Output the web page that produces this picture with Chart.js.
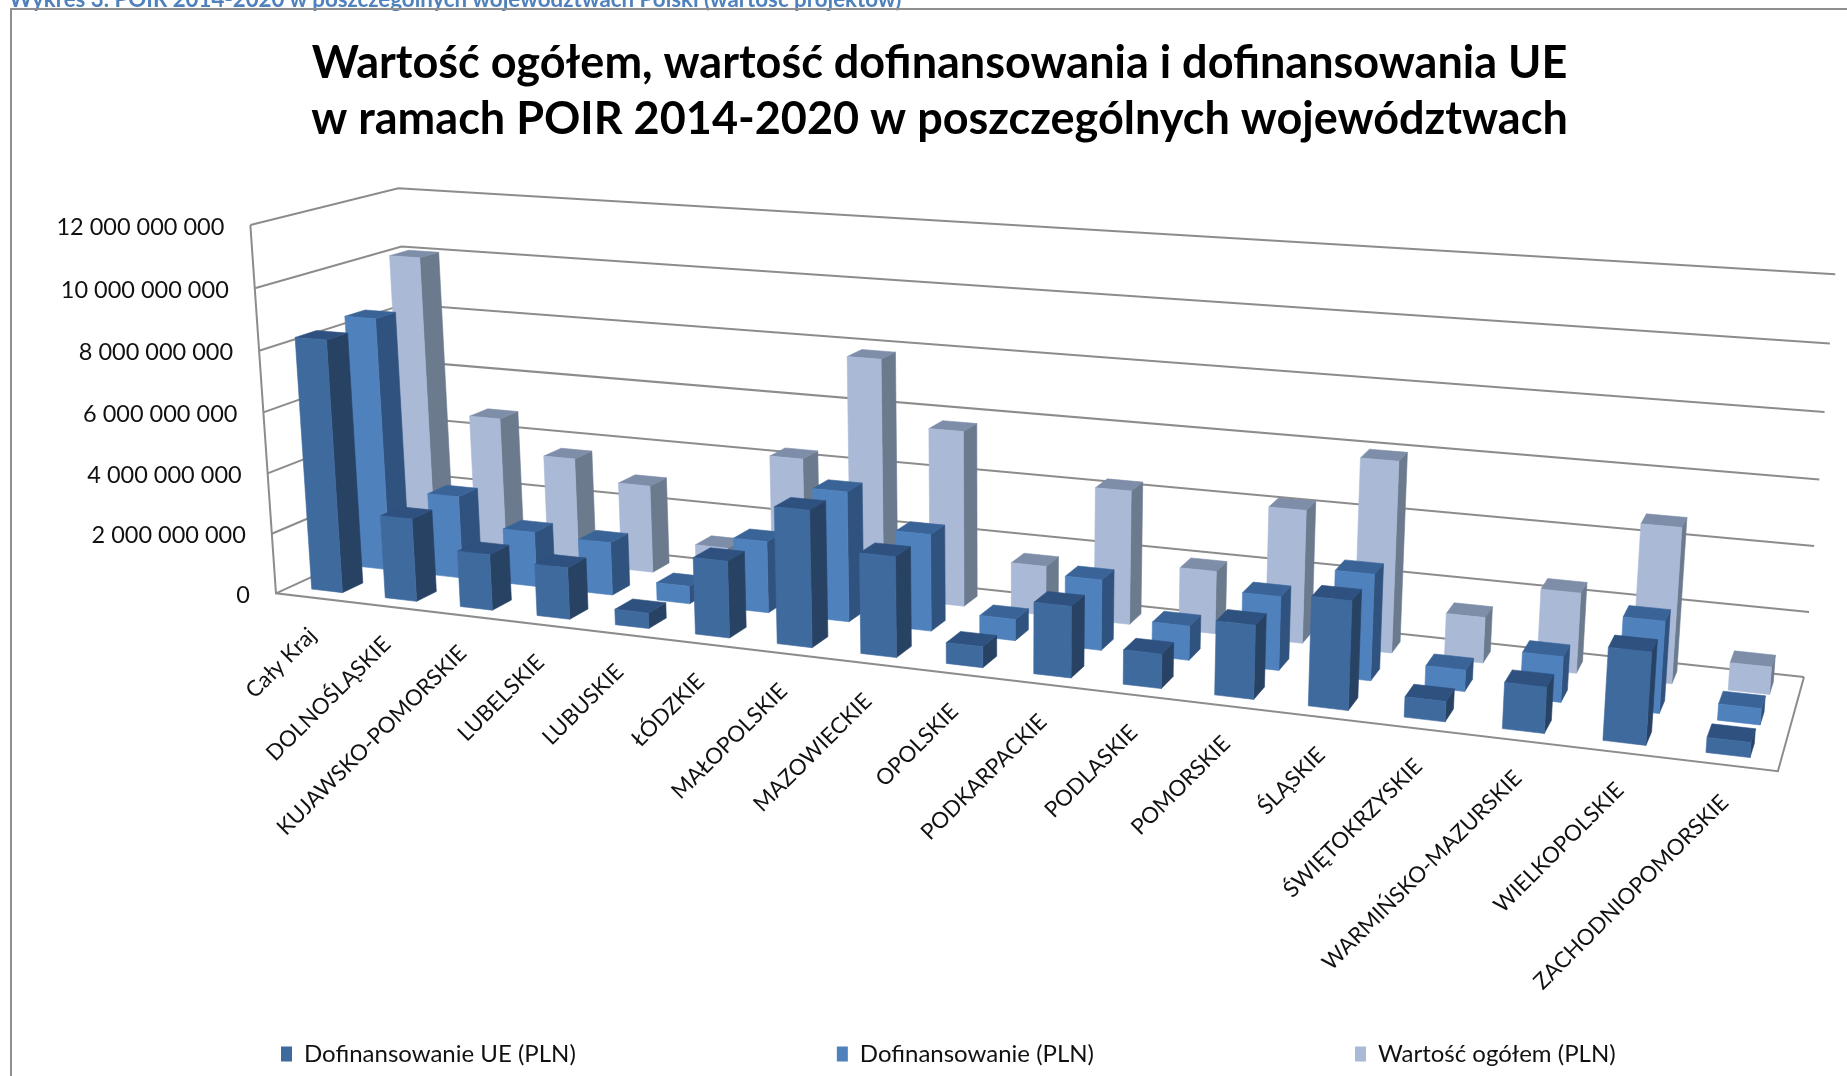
<!DOCTYPE html>
<html lang="pl">
<head>
<meta charset="utf-8">
<title>POIR 2014-2020</title>
<script src="https://cdn.jsdelivr.net/npm/chart.js@4/dist/chart.umd.js"></script>
<style>
html,body{margin:0;padding:0;background:#fff;width:1847px;height:1076px;overflow:hidden}
#cap{position:absolute;left:9px;top:-15px;font:bold 22.3px Lato,sans-serif;color:#4F81BD;white-space:nowrap;filter:blur(.5px)}
#frame{position:absolute;left:10px;top:8px;right:-5px;bottom:-5px;border:2px solid #8f8f8f}
canvas{position:absolute;left:0;top:0;filter:blur(.5px)}
</style>
</head>
<body>
<div id="cap">Wykres 3. POIR 2014-2020 w poszczególnych województwach Polski (wartość projektów)</div>
<div id="frame"></div>
<canvas id="c" width="1847" height="1076"></canvas>
<script>
const categories = ['Cały Kraj','DOLNOŚLĄSKIE','KUJAWSKO-POMORSKIE','LUBELSKIE','LUBUSKIE','ŁÓDZKIE','MAŁOPOLSKIE','MAZOWIECKIE','OPOLSKIE','PODKARPACKIE','PODLASKIE','POMORSKIE','ŚLĄSKIE','ŚWIĘTOKRZYSKIE','WARMIŃSKO-MAZURSKIE','WIELKOPOLSKIE','ZACHODNIOPOMORSKIE'];
const dofinansowanieUE = [8330000000,2730000000,1830000000,1680000000,500000000,2450000000,4320000000,3150000000,650000000,2200000000,1050000000,2230000000,3250000000,600000000,1350000000,2680000000,430000000];
const dofinansowanie  = [8500000000,2770000000,1830000000,1750000000,580000000,2330000000,4200000000,3100000000,680000000,2220000000,1070000000,2280000000,3250000000,650000000,1370000000,2730000000,480000000];
const wartoscOgolem   = [10050000000,4770000000,3630000000,2950000000,1100000000,4350000000,7830000000,5720000000,1600000000,4300000000,2000000000,4200000000,5970000000,1420000000,2470000000,4730000000,830000000];
const valueTicks = [0,2000000000,4000000000,6000000000,8000000000,10000000000,12000000000];
const seriesNames = ['Dofinansowanie UE (PLN)','Dofinansowanie (PLN)','Wartość ogółem (PLN)'];
const frontColors = ['#3F6A9E','#4F81BD','#AAB9D6'];
const sideColors  = ['#284264','#30527E','#6C7A8E'];
const topColors   = ['#2E5180','#3A6498','#7E8DA8'];
const valueMax = 12000000000;

/* Projection of the 3D box (u along categories, v along values, w into depth) on the screen */
const anchors = [
 [0,0,0,277,592],[1,0,0,1778,772],[1,0,1,1804,676],[0,0,1,416,530],
 [0,1,0,249,226],[0,1,1,399,188],[1,1,1,1835,274.5],
 [0,5/6,0,255,288],[0,5/6,1,402,246],[1,5/6,1,1830,343.5]
];
function solveProjection(){
  const rows=[];
  for(const [u,v,w,x,y] of anchors){
    const X=x/1000,Y=y/1000;
    rows.push([u,v,w,1,0,0,0,0,-X*u,-X*v,-X*w,X]);
    rows.push([0,0,0,0,u,v,w,1,-Y*u,-Y*v,-Y*w,Y]);
  }
  const n=11,A=[];
  for(let i=0;i<n;i++){A.push(new Array(n+1).fill(0));
    for(let j=0;j<=n;j++)for(const r of rows)A[i][j]+=r[i]*r[j];}
  for(let i=0;i<n;i++){
    let p=i;for(let k=i+1;k<n;k++)if(Math.abs(A[k][i])>Math.abs(A[p][i]))p=k;
    [A[i],A[p]]=[A[p],A[i]];
    for(let k=0;k<n;k++){if(k===i)continue;const f=A[k][i]/A[i][i];for(let j=i;j<=n;j++)A[k][j]-=f*A[i][j];}
  }
  return A.map((r,i)=>r[n]/r[i]);
}
const P=solveProjection();
function project(u,v,w){
  const d=P[8]*u+P[9]*v+P[10]*w+1;
  return {x:1000*(P[0]*u+P[1]*v+P[2]*w+P[3])/d, y:1000*(P[4]*u+P[5]*v+P[6]*w+P[7])/d};
}
function path(ctx,pts,fill){
  ctx.beginPath();pts.forEach((p,i)=>i?ctx.lineTo(p.x,p.y):ctx.moveTo(p.x,p.y));ctx.closePath();
  ctx.fillStyle=fill;ctx.strokeStyle=fill;ctx.lineWidth=.6;ctx.fill();ctx.stroke();
}
const depthSlots=3, depthFill=.42;

class Bar3DElement extends Chart.BarElement{
  static id='bar3d';
  draw(ctx){
    const xs=this.xs, ys=this.ys;
    const uc=(this.x-xs.left)/xs.width, hu=this.width/2/xs.width;
    const v=(ys.bottom-this.y)/ys.height;
    const wc=(this.slot+.5)/depthSlots, hw=depthFill/2/depthSlots;
    const u0=uc-hu,u1=uc+hu,w0=wc-hw,w1=wc+hw;
    ctx.save();
    path(ctx,[project(u1,0,w0),project(u1,0,w1),project(u1,v,w1),project(u1,v,w0)],this.sideColor);
    path(ctx,[project(u0,v,w0),project(u1,v,w0),project(u1,v,w1),project(u0,v,w1)],this.topColor);
    path(ctx,[project(u0,0,w0),project(u1,0,w0),project(u1,v,w0),project(u0,v,w0)],this.options.backgroundColor);
    ctx.restore();
  }
}
class Bar3DController extends Chart.BarController{
  static id='bar3d';
  static defaults={...Chart.BarController.defaults,dataElementType:'bar3d'};
  draw(){
    const meta=this.getMeta(),ds=this.getDataset();
    meta.data.forEach(e=>{e.xs=meta.xScale;e.ys=meta.yScale;e.slot=this.index;e.sideColor=ds.sideColor;e.topColor=ds.topColor;});
    super.draw();
  }
}
const gridColor='#8C8C8C';
function line(ctx,pts){ctx.beginPath();pts.forEach((p,i)=>i?ctx.lineTo(p.x,p.y):ctx.moveTo(p.x,p.y));ctx.stroke();}
class Value3DScale extends Chart.LinearScale{
  static id='value3d';
  _computeLabelArea(){return undefined;}
  _computeLabelItems(ca){
    const items=super._computeLabelItems(ca);
    items.forEach((it,i)=>{
      const p=project(0,this.ticks[i].value/valueMax,0);
      Object.assign(it.options,{translation:[p.x-26,p.y+2],textAlign:'right',textBaseline:'middle',rotation:0});
      it.textOffset=0;
    });
    return items;
  }
  drawGrid(){
    const ctx=this.ctx;ctx.save();ctx.strokeStyle=gridColor;ctx.lineWidth=2;
    this.ticks.forEach(t=>{const v=t.value/valueMax;
      line(ctx,[project(0,v,0),project(0,v,1),project(1,v,1)]);});
    line(ctx,[project(0,1,0),project(0,0,0),project(1,0,0),project(1,0,1)]);
    ctx.restore();
  }
  drawBorder(){}
}
class Category3DScale extends Chart.CategoryScale{
  static id='category3d';
  _computeLabelArea(){return undefined;}
  _computeLabelItems(ca){
    const items=super._computeLabelItems(ca);
    items.forEach((it,i)=>{
      const p=project((i+.5)/categories.length,0,0);
      Object.assign(it.options,{translation:[p.x,p.y+34],textAlign:'right',textBaseline:'middle',rotation:-Math.PI/4});
      it.textOffset=0;
    });
    return items;
  }
  drawGrid(){}
  drawBorder(){}
}
Chart.register(Bar3DElement,Bar3DController,Value3DScale,Category3DScale);

const fmt=v=>String(v).replace(/\B(?=(\d{3})+$)/g,' ');
const datasets=seriesNames.map((label,i)=>({
  label,
  data:[dofinansowanieUE,dofinansowanie,wartoscOgolem][i],
  backgroundColor:frontColors[i],sideColor:sideColors[i],topColor:topColors[i],
  grouped:false,barPercentage:.42,categoryPercentage:1,clip:false
}));
const legendGap=261;
new Chart(document.getElementById('c'),{
  type:'bar3d',
  data:{labels:categories,datasets},
  plugins:[{id:'legendPlace',afterLayout(ch){const L=ch.legend;L.left=281-legendGap;L.right=5000;L.top=1042-legendGap;}}],
  options:{
    responsive:false,animation:false,
    layout:{padding:{left:32,top:35}},
    plugins:{
      title:{display:true,text:['Wartość ogółem, wartość dofinansowania i dofinansowania UE','w ramach POIR 2014-2020 w poszczególnych województwach'],
        font:{family:'Lato',size:45,weight:'bold',lineHeight:1.255},color:'#000',padding:{top:0,bottom:10}},
      legend:{position:'bottom',align:'start',labels:{font:{family:'Lato',size:24},color:'#111',boxWidth:11,boxHeight:15,padding:legendGap}},
      tooltip:{enabled:false}
    },
    scales:{
      x:{type:'category3d',offset:true,grid:{display:false},border:{display:false},
        ticks:{autoSkip:false,minRotation:45,maxRotation:45,font:{family:'Lato',size:22.2},color:'#111'}},
      y:{type:'value3d',min:0,max:valueMax,grid:{display:false},border:{display:false},
        afterBuildTicks(s){s.ticks=valueTicks.map(value=>({value}));},
        ticks:{autoSkip:false,font:{family:'Lato',size:23.5},color:'#111',callback:fmt}}
    }
  }
});
</script>
</body>
</html>
